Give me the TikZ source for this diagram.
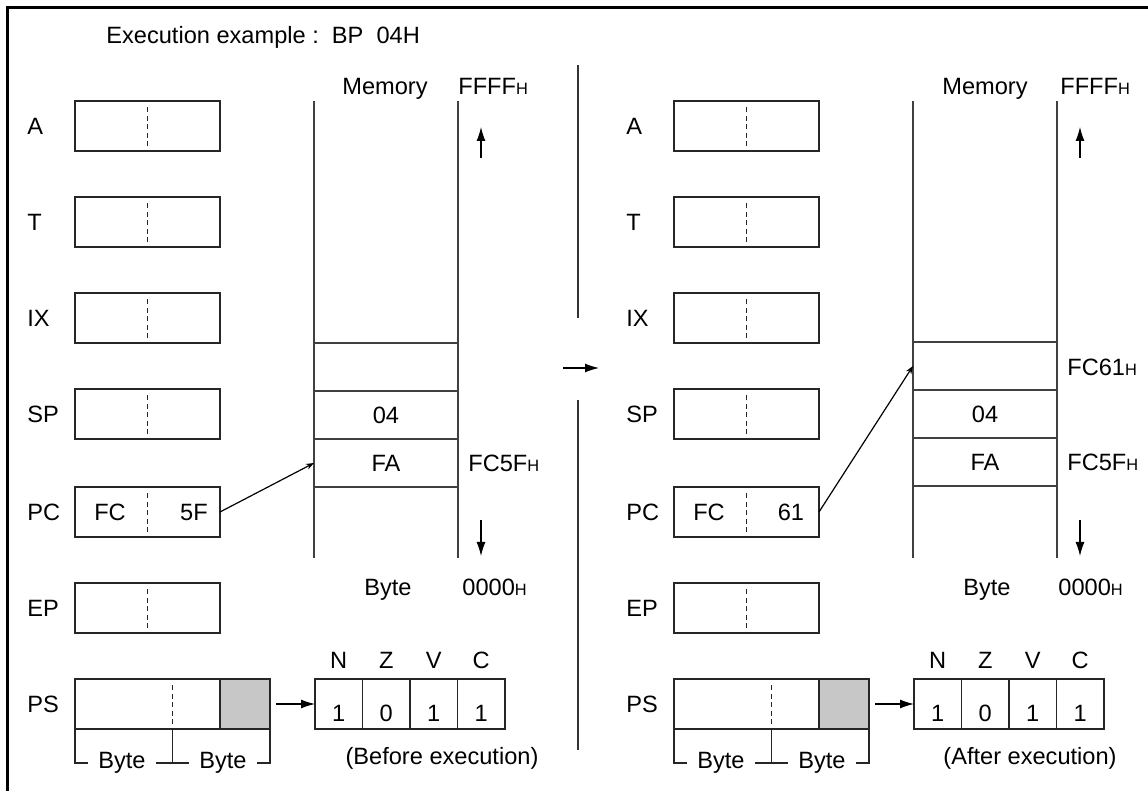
\documentclass[tikz,border=0pt]{standalone}
\usepackage{fontspec}
\setmainfont{Liberation Sans}
\usetikzlibrary{positioning,arrows.meta}

% маленькая буква H у адресов
\newcommand{\hsuf}{{\fontsize{8.2}{9}\selectfont H}}

\tikzset{
    reg/.style={draw=black!85, line width=0.75pt, minimum width=72.5pt, minimum height=25pt, inner sep=0pt, outer sep=0pt},
    psreg/.style={reg, minimum width=97.5pt},
    greycell/.style={draw=black!85, fill=black!22, line width=0.75pt, minimum width=25pt, minimum height=25pt, inner sep=0pt, outer sep=0pt},
    flagcell/.style={draw=black!85, line width=0.75pt, minimum width=23.75pt, minimum height=25pt, inner sep=0pt, outer sep=0pt, text height=17pt, text depth=0pt},
    memcell/.style={draw=black!75, line width=0.9pt, minimum width=72pt, minimum height=24pt, inner sep=0pt, outer sep=0pt},
    memline/.style={black!75, line width=0.9pt},
    halfline/.style={black!85, line width=0.75pt, dash pattern=on 2.5pt off 1.8pt},
    regname/.style={anchor=west, inner sep=0pt},
    addr/.style={anchor=base west, inner sep=0pt},
    caption/.style={anchor=base, inner sep=0pt},
    brace/.style={black!85, line width=0.75pt},
    ptr/.style={-{Stealth[length=4pt,width=3pt]}, line width=0.6pt},
    bigarrow/.style={-{Latex[length=7pt,width=4.5pt]}, line width=0.6pt}
}

\begin{document}
\begin{tikzpicture}[x=0.5pt, y=-0.5pt, font=\fontsize{11.8}{14}\selectfont]
        \useasboundingbox (0,0) rectangle (1148,791);

        % Рамка и заголовок
        \draw[line width=1.5pt] (7,791) -- (7,8) -- (1148,8);
        \node[anchor=west, inner sep=0pt] (title) at (106,37) {Execution example :\ \ BP\ \ 04H};

        % Разделитель и стрелка между состояниями
        \coordinate (d1) at (578,65); \coordinate (d2) at (578,318);
        \coordinate (d3) at (578,400); \coordinate (d4) at (578,750);
        \draw[black!80, line width=0.7pt] (d1) -- (d2);
        \draw[black!80, line width=0.7pt] (d3) -- (d4);
        \coordinate (mA) at (563,368); \coordinate (mB) at (599,368);
        \draw[bigarrow] (mA) -- (mB);

        % ===== До выполнения =====
        % Регистры
        \node[reg] (lA) at (147.5,126) {};   \node[regname] (lAn) at (27,126) {A};
        \node[reg] (lT) at (147.5,222) {};   \node[regname] (lTn) at (27,222) {T};
        \node[reg] (lIX) at (147.5,318) {};  \node[regname] (lIXn) at (27,318) {IX};
        \node[reg] (lSP) at (147.5,414) {};  \node[regname] (lSPn) at (27,414) {SP};
        \node[reg] (lPC) at (147.5,512) {};  \node[regname] (lPCn) at (27,512) {PC};
        \node[reg] (lEP) at (147.5,608) {};  \node[regname] (lEPn) at (27,608) {EP};
        \node[psreg] (lPS) at (172.5,704) {}; \node[regname] (lPSn) at (27,704) {PS};
        \node[greycell, anchor=east] (lPSg) at (lPS.east) {};
        \foreach \r in {lA,lT,lIX,lSP,lPC,lEP,lPS}
            \draw[halfline] ([yshift=-3pt]\r.north) -- ([yshift=2.5pt]\r.south);
        \node (lpcH) at (110,512) {FC}; \node (lpcL) at (194,512) {5F};

        % Байты под PS
        \node[inner sep=5pt] (lby1) at (122,763) {Byte};
        \node[inner sep=5pt] (lby2) at (223,763) {Byte};
        \draw[brace] (lPS.south west) |- (lby1.west);
        \draw[brace] (lby1.east) -- (lby2.west);
        \draw[brace] (lPS.south) -- (lPS.south |- lby1.center);
        \draw[brace] (lby2.east) -| (lPS.south east);

        % Флаги
        \node[flagcell] (lf1) at (338.75,704) {1};
        \node[flagcell, right=0pt of lf1] (lf2) {0};
        \node[flagcell, right=0pt of lf2] (lf3) {1};
        \node[flagcell, right=0pt of lf3] (lf4) {1};
        \node[above=1.7pt of lf1] (lfN) {N}; \node[above=1.7pt of lf2] (lfZ) {Z};
        \node[above=1.7pt of lf3] (lfV) {V}; \node[above=1.7pt of lf4] (lfC) {C};
        \draw[bigarrow] ([xshift=3pt]lPS.east) -- (lf1.west);
        \node (lbefore) at (442,758) {(Before execution)};

        % Память
        \coordinate (lmT) at (314,101); \coordinate (lmB) at (314,558);
        \coordinate (lmT2) at (458,101); \coordinate (lmB2) at (458,558);
        \draw[memline] (lmT) -- (lmB);
        \draw[memline] (lmT2) -- (lmB2);
        \node[memcell] (lm1) at (386,367) {};
        \node[memcell] (lm2) at (386,415) {04};
        \node[memcell] (lm3) at (386,463) {FA};
        \node[caption] (lmem) at (385,95) {Memory};
        \node[addr] (ltop) at (458,95) {FFFF\hsuf};
        \node[caption] (lbyte) at (388,596) {Byte};
        \node[addr] (lbot) at (462,596) {0000\hsuf};
        \node[addr] (la5f) at (468,472) {FC5F\hsuf};
        \coordinate (lu1) at (481,158); \coordinate (lu2) at (481,127);
        \coordinate (ld1) at (481,520); \coordinate (ld2) at (481,556);
        \draw[bigarrow] (lu1) -- (lu2);
        \draw[bigarrow] (ld1) -- (ld2);
        \draw[ptr] (lPC.east) -- (lm3.west);

        % ===== После выполнения =====
        % Регистры
        \node[reg] (rA) at (746.5,126) {};   \node[regname] (rAn) at (626,126) {A};
        \node[reg] (rT) at (746.5,222) {};   \node[regname] (rTn) at (626,222) {T};
        \node[reg] (rIX) at (746.5,318) {};  \node[regname] (rIXn) at (626,318) {IX};
        \node[reg] (rSP) at (746.5,414) {};  \node[regname] (rSPn) at (626,414) {SP};
        \node[reg] (rPC) at (746.5,512) {};  \node[regname] (rPCn) at (626,512) {PC};
        \node[reg] (rEP) at (746.5,608) {};  \node[regname] (rEPn) at (626,608) {EP};
        \node[psreg] (rPS) at (771.5,704) {}; \node[regname] (rPSn) at (626,704) {PS};
        \node[greycell, anchor=east] (rPSg) at (rPS.east) {};
        \foreach \r in {rA,rT,rIX,rSP,rPC,rEP,rPS}
            \draw[halfline] ([yshift=-3pt]\r.north) -- ([yshift=2.5pt]\r.south);
        \node (rpcH) at (709,512) {FC}; \node (rpcL) at (791,512) {61};

        % Байты под PS
        \node[inner sep=5pt] (rby1) at (721,763) {Byte};
        \node[inner sep=5pt] (rby2) at (822,763) {Byte};
        \draw[brace] (rPS.south west) |- (rby1.west);
        \draw[brace] (rby1.east) -- (rby2.west);
        \draw[brace] (rPS.south) -- (rPS.south |- rby1.center);
        \draw[brace] (rby2.east) -| (rPS.south east);

        % Флаги
        \node[flagcell] (rf1) at (937.75,704) {1};
        \node[flagcell, right=0pt of rf1] (rf2) {0};
        \node[flagcell, right=0pt of rf2] (rf3) {1};
        \node[flagcell, right=0pt of rf3] (rf4) {1};
        \node[above=1.7pt of rf1] (rfN) {N}; \node[above=1.7pt of rf2] (rfZ) {Z};
        \node[above=1.7pt of rf3] (rfV) {V}; \node[above=1.7pt of rf4] (rfC) {C};
        \draw[bigarrow] ([xshift=3pt]rPS.east) -- (rf1.west);
        \node (rafter) at (1030,758) {(After execution)};

        % Память
        \coordinate (rmT) at (913,101); \coordinate (rmB) at (913,558);
        \coordinate (rmT2) at (1057,101); \coordinate (rmB2) at (1057,558);
        \draw[memline] (rmT) -- (rmB);
        \draw[memline] (rmT2) -- (rmB2);
        \node[memcell] (rm1) at (985,366) {};
        \node[memcell] (rm2) at (985,414) {04};
        \node[memcell] (rm3) at (985,462) {FA};
        \node[caption] (rmem) at (985,95) {Memory};
        \node[addr] (rtop) at (1060,95) {FFFF\hsuf};
        \node[caption] (rbyte) at (987,596) {Byte};
        \node[addr] (rbot) at (1058,596) {0000\hsuf};
        \node[addr] (ra61) at (1067,376) {FC61\hsuf};
        \node[addr] (ra5f) at (1067,471) {FC5F\hsuf};
        \coordinate (ru1) at (1080,158); \coordinate (ru2) at (1080,127);
        \coordinate (rd1) at (1080,520); \coordinate (rd2) at (1080,556);
        \draw[bigarrow] (ru1) -- (ru2);
        \draw[bigarrow] (rd1) -- (rd2);
        \draw[ptr] (rPC.east) -- (rm1.west);
\end{tikzpicture}
\end{document}
